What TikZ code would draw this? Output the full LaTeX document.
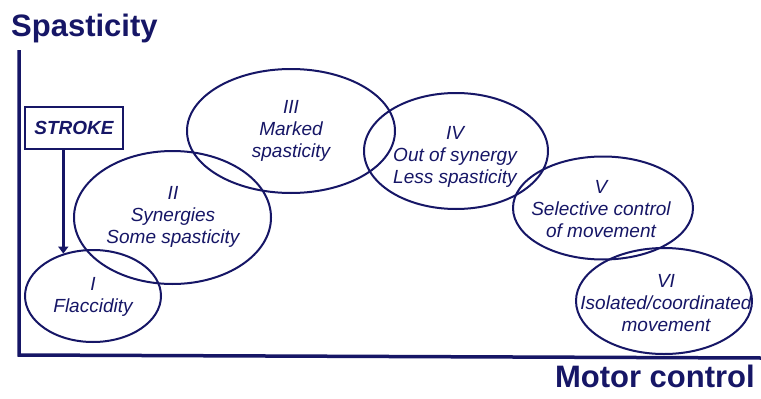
\documentclass[tikz,border=0pt]{standalone}
\usepackage{fontspec}
\setmainfont{Liberation Sans}
\usepackage{xcolor}
\usepackage{tikz}
\usetikzlibrary{shapes.geometric,arrows.meta}
\definecolor{inkblue}{RGB}{22,22,102}

\begin{document}
\begin{tikzpicture}[
            x=1pt, y=-1pt,
            every node/.style={text=inkblue},
            stage/.style={draw=inkblue, ellipse, line width=2pt, inner sep=0pt},
            stagetext/.style={align=center, font=\fontsize{19}{22}\selectfont\itshape},
            axislabel/.style={font=\fontsize{31}{36}\selectfont\bfseries},
            box/.style={draw=inkblue, rectangle, line width=2pt, minimum width=98pt, minimum height=42pt, align=center, font=\fontsize{19}{22}\selectfont\bfseries\itshape}
            ]
            \useasboundingbox[fill=white] (0,0) rectangle (761,399);

            % Axes
            \coordinate (ytop) at (19,50);
            \coordinate (orig) at (19,355);
            \coordinate (xend) at (761,358);
            \draw[inkblue, line width=3.5pt] (ytop) -- (orig) -- (xend);
            \node[axislabel, anchor=base west, inner sep=0pt] (ylab) at (11,36) {Spasticity};
            \node[axislabel, anchor=base east, inner sep=0pt] (xlab) at (755,387) {Motor control};

            % Nodes with manual coordinates
            \node[box] (stroke) at (74,128) {STROKE};
            \node[stage, minimum width=136pt, minimum height=92pt] (s1) at (93,296) {};
            \node[stage, minimum width=197pt, minimum height=133pt] (s2) at (172.5,217.5) {};
            \node[stage, minimum width=208pt, minimum height=124pt] (s3) at (291,131) {};
            \node[stage, minimum width=184pt, minimum height=116pt] (s4) at (456,151) {};
            \node[stage, minimum width=180pt, minimum height=103pt] (s5) at (603,208) {};
            \node[stage, minimum width=176pt, minimum height=106pt] (s6) at (664,301) {};

            \node[stagetext] (t1) at (93,297) {I\\Flaccidity};
            \node[stagetext] (t2) at (173,217) {II\\Synergies\\Some spasticity};
            \node[stagetext] (t3) at (291,131) {III\\Marked\\spasticity};
            \node[stagetext] (t4) at (455,157) {IV\\Out of synergy\\Less spasticity};
            \node[stagetext] (t5) at (601,209) {V\\Selective control\\of movement};
            \node[stagetext] (t6) at (666,303) {VI\\Isolated/coordinated\\movement};

            % Arrows
            \draw[inkblue, line width=2.8pt, -{Triangle[length=7pt, width=10pt]}] (stroke.south -| s1.125) -- (s1.125);
        \end{tikzpicture}
\end{document}
